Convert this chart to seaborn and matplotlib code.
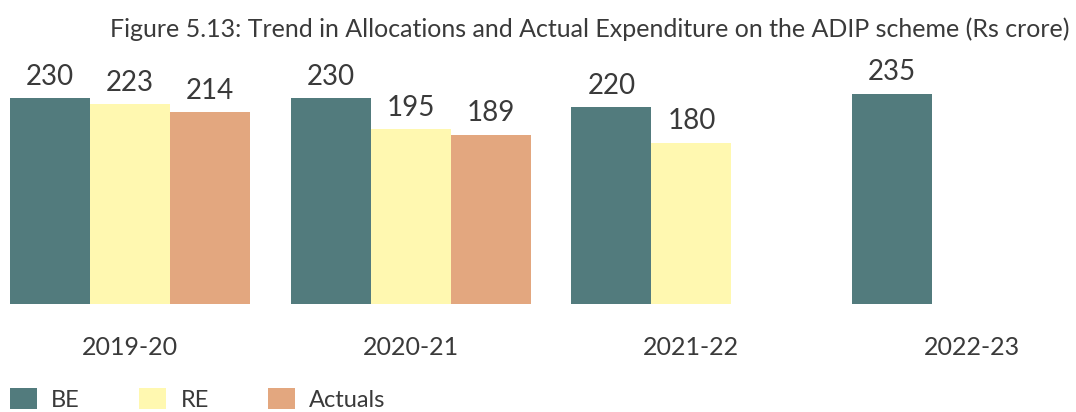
import matplotlib
matplotlib.use("Agg")
import matplotlib.pyplot as plt
from matplotlib.patches import Patch
import pandas as pd
import seaborn as sns

# Budget figures for the ADIP scheme (Rs crore)
years = ["2019-20", "2020-21", "2021-22", "2022-23"]
series = ["BE", "RE", "Actuals"]
be_values = [230, 230, 220, 235]
re_values = [223, 195, 180, None]
actual_values = [214, 189, None, None]
colors = ["#527b7d", "#fff8b0", "#e3a77f"]
title = "Figure 5.13: Trend in Allocations and Actual Expenditure on the ADIP scheme (Rs crore)"

rows = []
for name, vals in zip(series, [be_values, re_values, actual_values]):
    for yr, v in zip(years, vals):
        if v is not None:
            rows.append({"year": yr, "type": name, "value": v})
df = pd.DataFrame(rows)

sns.set_theme(style="white")
plt.rcParams["font.family"] = ["Lato", "DejaVu Sans"]
text_color = "#3a3a3a"

W, H = 1076, 412
fig = plt.figure(figsize=(W / 100, H / 100), dpi=100)

# axes placed so the baseline sits near the bottom third of the figure
base_px = 304
top_val = 260
px_per_unit = 206 / 230
ax_h = top_val * px_per_unit
ax = fig.add_axes([0, (H - base_px) / H, 1, ax_h / H])

sns.barplot(data=df, x="year", y="value", hue="type", order=years,
            hue_order=series, palette=colors, saturation=1, width=0.855,
            linewidth=0, edgecolor="none", legend=False, ax=ax)

step = 280.7
left = -130 / step
ax.set_xlim(left, left + W / step)
ax.set_ylim(0, top_val)

for cont in ax.containers:
    ax.bar_label(cont, fmt="%d", padding=6, fontsize=20, color=text_color)

for s in ax.spines.values():
    s.set_visible(False)
ax.set_yticks([])
ax.set_xlabel("")
ax.set_ylabel("")
ax.tick_params(axis="x", length=0, pad=23, labelsize=18, labelcolor=text_color)

fig.text(1070 / W, 1 - 37 / H, title, ha="right", va="baseline",
         fontsize=18, color=text_color)

handles = [Patch(facecolor=c, edgecolor="none", label=s) for s, c in zip(series, colors)]
fig.legend(handles=handles, loc="lower left", bbox_to_anchor=(10 / W, 1 / H),
           ncol=3, frameon=False, fontsize=17, handlelength=1.15,
           handleheight=1.0, handletextpad=0.6, columnspacing=2.5,
           borderpad=0, borderaxespad=0, labelcolor=text_color)

fig.savefig("out.png", dpi=100)
